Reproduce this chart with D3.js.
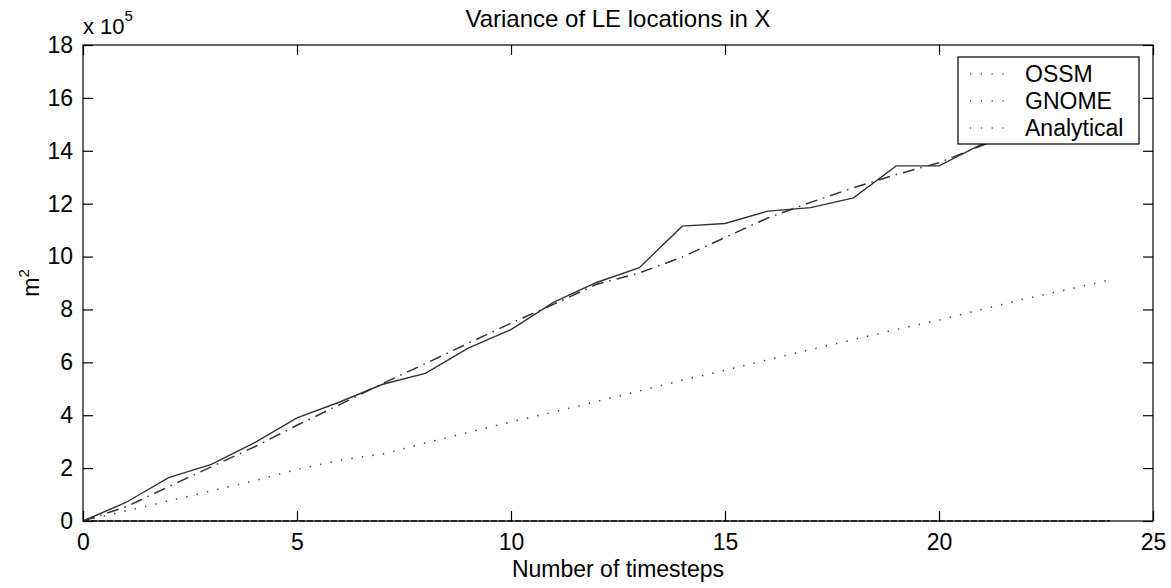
<!DOCTYPE html>
<html><head><meta charset="utf-8">
<script src="https://cdn.jsdelivr.net/npm/d3@7"></script>
<style>
body{margin:0;background:#fff;}
text{font-family:"Liberation Sans",Arial,sans-serif;fill:#000;}
</style></head>
<body><svg id="c" width="1171" height="588"></svg>
<script>
const timesteps = d3.range(0, 25);
const ossm = [0, 0.70, 1.64, 2.14, 2.95, 3.90, 4.50, 5.17, 5.58, 6.54, 7.24, 8.28, 9.02, 9.58, 11.15, 11.25, 11.72, 11.85, 12.22, 13.43, 13.43, 14.25, 14.9, 15.5, 16.0];
const gnome = [0, 0.53, 1.30, 2.05, 2.80, 3.62, 4.40, 5.20, 5.95, 6.72, 7.48, 8.20, 8.95, 9.38, 9.98, 10.72, 11.46, 12.05, 12.60, 13.10, 13.55, 14.20, 14.80, 15.40, 15.90];
const analytical = [0, 0.38, 0.76, 1.14, 1.52, 1.95, 2.30, 2.53, 2.95, 3.35, 3.75, 4.12, 4.52, 4.92, 5.32, 5.70, 6.10, 6.48, 6.86, 7.24, 7.60, 8.00, 8.40, 8.75, 9.12];
const baseline = [0, 0, 0, 0, 0, 0, 0, 0, 0, 0, 0, 0, 0, 0, 0, 0, 0, 0, 0, 0, 0, 0, 0, 0, 0];
const xTicks = [0, 5, 10, 15, 20, 25];
const yTicks = [0, 2, 4, 6, 8, 10, 12, 14, 16, 18];
const legendLabels = ["OSSM", "GNOME", "Analytical"];
const title = "Variance of LE locations in X";
const xLabel = "Number of timesteps";

const L = 83, R = 1153, T = 45, B = 521;
const FS = 23;
const svg = d3.select("#c");
const x = d3.scaleLinear().domain([0, 25]).range([L, R]);
const y = d3.scaleLinear().domain([0, 18]).range([B, T]);

const line = d3.line().x((d, i) => x(timesteps[i])).y(d => y(d));

svg.append("path").datum(baseline).attr("d", line).attr("fill", "none")
  .attr("stroke", "#555").attr("stroke-width", 2.2).attr("stroke-dasharray", "6,2");
svg.append("path").datum(analytical).attr("d", line).attr("fill", "none")
  .attr("stroke", "#444").attr("stroke-width", 1.5).attr("stroke-dasharray", "1.4,9.2");
svg.append("path").datum(gnome).attr("d", line).attr("fill", "none")
  .attr("stroke", "#333").attr("stroke-width", 1.5).attr("stroke-dasharray", "12,6,1.5,6");
svg.append("path").datum(ossm).attr("d", line).attr("fill", "none")
  .attr("stroke", "#333").attr("stroke-width", 1.4);

// box
svg.append("rect").attr("x", L).attr("y", T).attr("width", R - L).attr("height", B - T)
  .attr("fill", "none").attr("stroke", "#000").attr("stroke-width", 1.2);

// axes
const xb = svg.append("g").attr("transform", `translate(0,${B})`)
  .call(d3.axisBottom(x).tickValues(xTicks).tickSize(-10).tickPadding(13).tickFormat(d3.format("d")));
const xt = svg.append("g").attr("transform", `translate(0,${T})`)
  .call(d3.axisTop(x).tickValues(xTicks).tickSize(-10).tickFormat(""));
const yl = svg.append("g").attr("transform", `translate(${L},0)`)
  .call(d3.axisLeft(y).tickValues(yTicks).tickSize(-10).tickPadding(10).tickFormat(d3.format("d")));
const yr = svg.append("g").attr("transform", `translate(${R},0)`)
  .call(d3.axisRight(y).tickValues(yTicks).tickSize(-10).tickFormat(""));
[xb, xt, yl, yr].forEach(g => {
  g.select(".domain").remove();
  g.selectAll("line").attr("stroke", "#000").attr("stroke-width", 1.2);
  g.selectAll("text").attr("font-size", FS).attr("font-family", "Liberation Sans, Arial, sans-serif").attr("fill", "#000");
});

// multiplier
const mult = svg.append("text").attr("x", 83).attr("y", 34).attr("font-size", 22);
mult.append("tspan").text("x 10");
mult.append("tspan").attr("dy", -13).attr("font-size", 15).text("5");

// title
svg.append("text").attr("x", 618).attr("y", 27).attr("text-anchor", "middle")
  .attr("font-size", 24).text(title);
// x label
svg.append("text").attr("x", 618).attr("y", 577).attr("text-anchor", "middle")
  .attr("font-size", FS).text(xLabel);
// y label
const yt = svg.append("text").attr("transform", `translate(39,${(T + B) / 2}) rotate(-90)`)
  .attr("text-anchor", "middle").attr("font-size", FS);
yt.append("tspan").text("m");
yt.append("tspan").attr("dy", -10).attr("font-size", 15).text("2");

// legend
const lg = svg.append("g");
lg.append("rect").attr("x", 958).attr("y", 57).attr("width", 181).attr("height", 87)
  .attr("fill", "#fff").attr("stroke", "#000").attr("stroke-width", 1.2);
legendLabels.forEach((lab, i) => {
  const cy = 74 + i * 27;
  lg.append("line").attr("x1", 970).attr("x2", 1006).attr("y1", cy).attr("y2", cy)
    .attr("stroke", "#000").attr("stroke-width", 1.2).attr("stroke-dasharray", "1.2,9.6");
  lg.append("text").attr("x", 1025).attr("y", cy + 8).attr("font-size", FS).text(lab);
});
</script></body></html>
